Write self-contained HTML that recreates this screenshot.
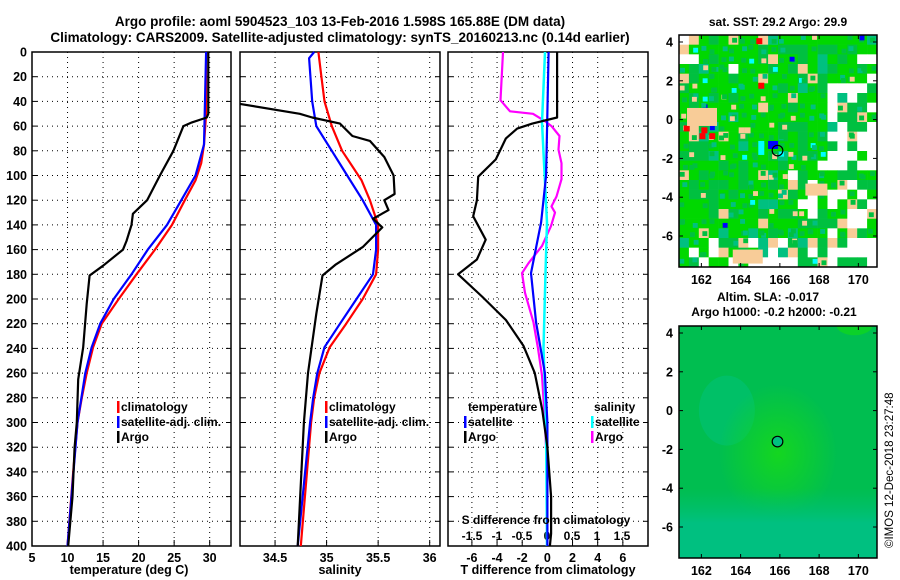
<!DOCTYPE html>
<html><head><meta charset="utf-8"><style>
html,body{margin:0;padding:0;background:#fff}
svg{display:block;font-family:"Liberation Sans",sans-serif;font-weight:bold}
</style></head><body>
<svg id="c" width="900" height="580" viewBox="0 0 900 580" xmlns="http://www.w3.org/2000/svg">
<text x="340" y="26" font-size="13.5" text-anchor="middle">Argo profile: aoml 5904523_103 13-Feb-2016 1.598S 165.88E (DM data)</text>
<text x="340" y="42" font-size="13.5" text-anchor="middle">Climatology: CARS2009. Satellite-adjusted climatology: synTS_20160213.nc (0.14d earlier)</text>
<g id="g"></g>
<text x="129" y="574" font-size="12.5" text-anchor="middle">temperature (deg C)</text>
<text x="340" y="574" font-size="12.5" text-anchor="middle">salinity</text>
<text x="548" y="574" font-size="12.5" text-anchor="middle">T difference from climatology</text>
<text x="546" y="524" font-size="12" text-anchor="middle">S difference from climatology</text>
<text x="778" y="26" font-size="12" text-anchor="middle">sat. SST: 29.2 Argo: 29.9</text>
<text x="768" y="301" font-size="12" text-anchor="middle">Altim. SLA: -0.017</text>
<text x="774" y="316" font-size="12" text-anchor="middle">Argo h1000: -0.2 h2000: -0.21</text>
<text transform="translate(893,548) rotate(-90)" font-size="11.5" font-weight="normal">©IMOS 12-Dec-2018 23:27:48</text>
</svg>
<script>
// ---- data ----
const depthTicks=[0,20,40,60,80,100,120,140,160,180,200,220,240,260,280,300,320,340,360,380,400];
const tempTicks=[5,10,15,20,25,30];
const salTicks=[34.5,35,35.5,36];
const tdiffTicks=[-6,-4,-2,0,2,4,6];
const sdiffTicks=[-1.5,-1,-0.5,0,0.5,1,1.5];
const sdiffTickLabels=["-1.5","-1","-0.5","0","0.5","1","1.5"];
const climTDepth=[0,50,75,90,104,120,140,160,180,200,220,239,260,280,300,340,400];
const climT=[29.5,29.5,29.2,28.8,28.0,26.5,24.7,22.3,19.7,17.2,14.8,13.6,12.7,12.0,11.4,10.8,10.0];
const satTDepth=[0,75,100,120,140,160,180,200,220,239,260,300,400];
const satT=[29.5,29.2,28,26,24.0,21.3,19.0,16.5,14.6,13.4,12.5,11.4,10];
const argoTDepth=[0,50,53,57,60,80,100,120,131,140,153,160,173,181,204,239,265,300,320,360,400];
const argoT=[29.8,29.8,29.6,27.5,26.3,24.9,23,21.2,19.2,19.0,18.3,17.8,15,13.1,12.7,12.2,11.5,11.3,11,10.7,10.1];
const climSDepth=[0,20,40,60,80,104,120,140,160,180,200,220,239,260,280,300,400];
const climS=[34.92,34.95,34.98,35.05,35.15,35.34,35.42,35.5,35.5,35.48,35.35,35.19,35.03,34.93,34.88,34.85,34.75];
const satSDepth=[0,5,40,60,80,100,120,140,160,180,200,220,239,260,280,300,400];
const satS=[34.88,34.83,34.86,34.9,35.05,35.2,35.35,35.48,35.48,35.45,35.29,35.13,34.98,34.91,34.87,34.84,34.72];
const argoSDepth=[42,50,53,58,68,72,85,100,115,120,128,135,142,158,172,181,212,260,300,400];
const argoS=[34.16,34.74,34.86,35.13,35.25,35.42,35.56,35.65,35.66,35.56,35.6,35.45,35.54,35.35,35.09,34.96,34.9,34.82,34.78,34.72];
const argoTdDepth=[0,53,58,62,70,87,101,120,133,152,168,180,198,217,238,260,290,320,360,390,400];
const argoTd=[0.77,0.77,-1.2,-2.4,-3.3,-4.1,-5.5,-5.6,-5.9,-4.9,-5.6,-7.1,-5.2,-3.3,-1.9,-1.0,-0.4,0,0.3,0.3,0.2];
const satTdDepth=[0,100,138,179,219,260,300,400];
const satTd=[0.1,-0.1,-0.5,-1.3,-0.9,-0.2,0,0];
const argoSdDepth=[0,39,48,50,56,60,68,79,90,103,117,125,130,141,157,171,179,195,219,240,262,300,340,400];
const argoSd=[-0.88,-0.93,-0.74,-0.28,-0.04,0.09,0.25,0.23,0.29,0.29,0.19,0.09,0.16,0.08,-0.1,-0.37,-0.5,-0.44,-0.27,-0.18,-0.1,-0.04,0,0];
const satSdDepth=[0,57,138,179,240,300,400];
const satSd=[-0.04,-0.1,0,-0.03,-0.07,-0.02,0];
const lonTicks=[162,164,166,168,170];
const latTicks=[4,2,0,-2,-4,-6];
const argoLon=165.88, argoLat=-1.598;

const NS="http://www.w3.org/2000/svg";
const G=document.getElementById('g');
function mk(t,a,p){const e=document.createElementNS(NS,t);for(const k in a)e.setAttribute(k,a[k]);(p||G).appendChild(e);return e;}
const Y0=52,Y1=546;
const yD=d=>Y0+d/400*(Y1-Y0);
const P1={x0:32,x1:231,v0:5,v1:33};
const P2={x0:240,x1:440,v0:34.16,v1:36.1};
const P3={x0:448,x1:648,v0:-7.9,v1:8};
const P3S={x0:448,x1:648,v0:-1.98,v1:2.02};
const sx=(P,v)=>P.x0+(v-P.v0)/(P.v1-P.v0)*(P.x1-P.x0);

function frame(P,name,ticks,labels,labelY){
  const f=mk('rect',{x:P.x0,y:Y0,width:P.x1-P.x0,height:Y1-Y0,fill:'none',stroke:'#000','stroke-width':1.5});
  
  
  depthTicks.forEach(d=>{if(d>0&&d<400){const l=mk('line',{x1:P.x0,x2:P.x1,y1:yD(d),y2:yD(d),stroke:'#000','stroke-dasharray':'1 4','stroke-width':1});
    
    }});
  ticks.forEach((v,i)=>{const x=sx(P,v);
    if(x>P.x0+1&&x<P.x1-1){const l=mk('line',{x1:x,x2:x,y1:Y0,y2:Y1,stroke:'#000','stroke-dasharray':'1 4','stroke-width':1});
    
    }
    mk('line',{x1:x,x2:x,y1:Y1,y2:Y1-6,stroke:'#000'});
    if(labels){const t=mk('text',{x:x,y:labelY,'font-size':12.5,'text-anchor':'middle'});t.textContent=labels[i];
      
      }
  });
}
function line(P,xs,ds,col,name,w){
  const pts=xs.map((v,i)=>sx(P,v).toFixed(1)+','+yD(ds[i]).toFixed(1)).join(' ');
  const l=mk('polyline',{points:pts,fill:'none',stroke:col,'stroke-width':w||2.2,'stroke-linejoin':'round'});
  
  
}
frame(P1,'temperature-panel',tempTicks,tempTicks.map(String),562);
frame(P2,'salinity-panel',salTicks,salTicks.map(String),562);
frame(P3,'difference-panel',tdiffTicks,tdiffTicks.map(String),562);
sdiffTicks.forEach((v,i)=>{const t=mk('text',{x:sx(P3S,v),y:540,'font-size':12,'text-anchor':'middle'});t.textContent=sdiffTickLabels[i];
  
  });
depthTicks.forEach(d=>{const t=mk('text',{x:27,y:yD(d)+4.5,'font-size':12.5,'text-anchor':'end'});t.textContent=d;
  
  
  [P1,P2,P3].forEach(P=>{mk('line',{x1:P.x0,x2:P.x0+5,y1:yD(d),y2:yD(d),stroke:'#000'});mk('line',{x1:P.x1,x2:P.x1-5,y1:yD(d),y2:yD(d),stroke:'#000'});});});

line(P1,climT,climTDepth,'#ff0000','temperature-climatology-line');
line(P1,satT,satTDepth,'#0000ff','temperature-satellite-line');
line(P1,argoT,argoTDepth,'#000','temperature-argo-line');
line(P2,climS,climSDepth,'#ff0000','salinity-climatology-line');
line(P2,satS,satSDepth,'#0000ff','salinity-satellite-line');
line(P2,argoS,argoSDepth,'#000','salinity-argo-line');
line(P3S,argoSd,argoSdDepth,'#ff00ff','s-diff-argo-line');
line(P3S,satSd,satSdDepth,'#00ffff','s-diff-satellite-line',2.5);
line(P3,satTd,satTdDepth,'#0000ff','t-diff-satellite-line');
line(P3,argoTd,argoTdDepth,'#000','t-diff-argo-line');

function legend(x,y,items,name){items.forEach((it,i)=>{
  if(it[1]){mk('rect',{x:x,y:y+i*15-10,width:2.5,height:12,fill:it[1]});}
  const t=mk('text',{x:x+(it[1]?4:0),y:y+i*15,'font-size':12});t.textContent=it[0];
  
  });}
legend(117,411,[['climatology','#ff0000'],['satellite-adj. clim.','#0000ff'],['Argo','#000']],'temperature-legend');
legend(325,411,[['climatology','#ff0000'],['satellite-adj. clim.','#0000ff'],['Argo','#000']],'salinity-legend');
legend(468,411,[['temperature',null]],'diff-legend');
legend(464,426,[['satellite','#0000ff'],['Argo','#000']],'t-diff-legend');
legend(594,411,[['salinity',null]],'diff-legend');
legend(591,426,[['satellite','#00ffff'],['Argo','#ff00ff']],'s-diff-legend');

// ---- maps ----
function mapFrame(y0){
  const M={x0:679,x1:877,y0:y0,y1:y0+232,lon0:160.86,lon1:170.95,lat4:y0+7,latm6:y0+201};
  M.lx=v=>M.x0+(v-M.lon0)/(M.lon1-M.lon0)*(M.x1-M.x0);
  M.ly=v=>M.lat4+(4-v)/10*(M.latm6-M.lat4);
  return M;}
function mapAxes(M,name){
  const f=mk('rect',{x:M.x0,y:M.y0,width:M.x1-M.x0,height:M.y1-M.y0,fill:'none',stroke:'#000','stroke-width':1.5});
  
  
  latTicks.forEach(v=>{const y=M.ly(v);mk('line',{x1:M.x0,x2:M.x0+4,y1:y,y2:y,stroke:'#000'});mk('line',{x1:M.x1,x2:M.x1-4,y1:y,y2:y,stroke:'#000'});
    const t=mk('text',{x:M.x0-6,y:y+4.5,'font-size':12.5,'text-anchor':'end'});t.textContent=v;
    
    });
  lonTicks.forEach(v=>{const x=M.lx(v);mk('line',{x1:x,x2:x,y1:M.y1,y2:M.y1-4,stroke:'#000'});mk('line',{x1:x,x2:x,y1:M.y0,y2:M.y0+4,stroke:'#000'});
    const t=mk('text',{x:x,y:M.y1+17,'font-size':12.5,'text-anchor':'middle'});t.textContent=v;
    
    });
  const c=mk('circle',{cx:M.lx(argoLon),cy:M.ly(argoLat),r:5.3,fill:'none',stroke:'#000','stroke-width':1.2});
  
  
}
// SST map texture (blocky)
const M1=mapFrame(35);
const sstG=mk('g',{});


let seed=11;function rnd(){seed=(seed*16807)%2147483647;return seed/2147483647;}
const NX=20,NY=24;
const bw=(M1.x1-M1.x0)/NX, bh=(M1.y1-M1.y0)/NY;
for(let j=0;j<NY;j++)for(let i=0;i<NX;i++){
  const fx=i/NX, fy=j/NY;
  const r=rnd();
  let col;
  let wp=0.02;
  if(fx>0.72&&fy>0.2&&fy<0.55) wp=0.5;
  else if(fx>0.62&&fy>0.6&&fy<0.85) wp=0.3;
  else if(fy>0.85&&fx>0.35) wp=0.55;
  else if(fy>0.85) wp=0.25;
  if(r<wp) col='#ffffff';
  else if(r<wp+0.08) col='#f8cc98';
  else if(r<wp+0.3) col='#00c040';
  else if(r<wp+0.36) col='#00c080';
  else col='#00d800';
  mk('rect',{x:(M1.x0+i*bw).toFixed(2),y:(M1.y0+j*bh).toFixed(2),width:(bw+0.3).toFixed(2),height:(bh+0.3).toFixed(2),fill:col},sstG);
  // small sub-cells
  for(let k=0;k<2;k++){const r2=rnd();let c2=null;
    if(r2<0.25)c2='#00c040';else if(r2<0.33)c2='#00c080';else if(r2<0.36)c2='#f8cc98';else if(r2<0.375)c2='#00ffff';else if(r2<0.38)c2='#0000ff';
    if(c2&&col!=='#ffffff')mk('rect',{x:(M1.x0+i*bw+rnd()*bw/2).toFixed(2),y:(M1.y0+j*bh+rnd()*bh/2).toFixed(2),width:(bw/2).toFixed(2),height:(bh/2).toFixed(2),fill:c2},sstG);}
}
[[161.1,-0.3],[161.9,-0.7],[162.4,-0.7],[162.0,-0.4],[164.8,4.2],[164.9,1.9]].forEach(p=>mk('rect',{x:M1.lx(p[0]),y:M1.ly(p[1]),width:6,height:6,fill:'#ff0000'},sstG));
[[163.9,-0.4],[164.2,-0.4]].forEach(p=>mk('rect',{x:M1.lx(p[0]),y:M1.ly(p[1]),width:6,height:6,fill:'#f8cc98'},sstG));
mk('rect',{x:M1.x0+8,y:M1.ly(0.6),width:30,height:18,fill:'#f8cc98'},sstG);
mk('rect',{x:M1.lx(165.4),y:M1.ly(-1.1),width:10,height:8,fill:'#0000ff'},sstG);
mk('rect',{x:M1.lx(164.9),y:M1.ly(-1.1),width:6,height:14,fill:'#00ffff'},sstG);
mk('rect',{x:M1.lx(163.6),y:M1.ly(-6.7),width:30,height:14,fill:'#f8cc98'},sstG);
mk('rect',{x:M1.lx(167.3),y:M1.ly(-3.3),width:22,height:12,fill:'#f8cc98'},sstG);
mapAxes(M1,'sst-map');
// SLA map
const M2=mapFrame(326);
const defs=mk('defs',{});
const cp=mk('clipPath',{id:'cp2'},defs);
mk('rect',{x:M2.x0,y:M2.y0,width:M2.x1-M2.x0,height:M2.y1-M2.y0},cp);
const rg=mk('radialGradient',{id:'rg',cx:'0.5',cy:'0.55',r:'0.3'},defs);
mk('stop',{offset:'0','stop-color':'#14d620','stop-opacity':'1'},rg);
mk('stop',{offset:'1','stop-color':'#14d620','stop-opacity':'0'},rg);
const lg=mk('linearGradient',{id:'lg',x1:'0',y1:'0',x2:'0',y2:'1'},defs);
mk('stop',{offset:'0','stop-color':'#00c070','stop-opacity':'0'},lg);
mk('stop',{offset:'0.7','stop-color':'#00c070','stop-opacity':'0'},lg);
mk('stop',{offset:'0.85','stop-color':'#00c080','stop-opacity':'1'},lg);
const sla=mk('g',{'clip-path':'url(#cp2)'});


mk('rect',{x:M2.x0,y:M2.y0,width:M2.x1-M2.x0,height:M2.y1-M2.y0,fill:'#00be50'},sla);
mk('ellipse',{cx:M2.lx(163.3),cy:M2.ly(0),rx:28,ry:35,fill:'#00c070',opacity:0.7},sla);
mk('ellipse',{cx:M2.lx(169.8),cy:M2.ly(4.4),rx:18,ry:10,fill:'#10d818',opacity:0.7},sla);
mk('rect',{x:M2.x0,y:M2.y0,width:M2.x1-M2.x0,height:M2.y1-M2.y0,fill:'url(#rg)'},sla);
mk('rect',{x:M2.x0,y:M2.y0,width:M2.x1-M2.x0,height:M2.y1-M2.y0,fill:'url(#lg)'},sla);
mk('circle',{cx:M2.lx(argoLon),cy:M2.ly(argoLat),r:5,fill:'#00c080'},sla);
mapAxes(M2,'sla-map');
</script>
</body></html>
